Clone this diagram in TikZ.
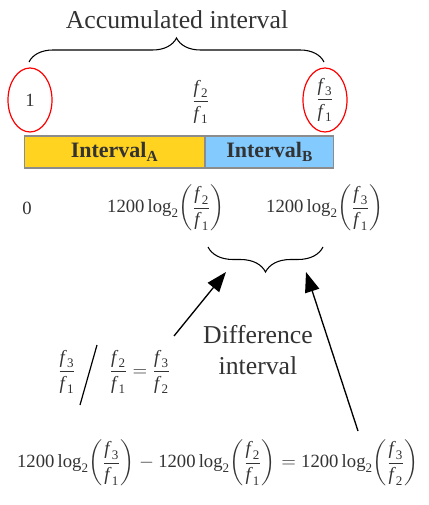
\documentclass[tikz,border=0pt]{standalone}
\usepackage{amsmath}
\usepackage{fontspec}
\setmainfont{Liberation Serif}
\usetikzlibrary{shapes.geometric,decorations.pathreplacing,arrows.meta}
\definecolor{txt}{HTML}{333333}
\definecolor{baryellow}{HTML}{FFD320}
\definecolor{barblue}{HTML}{83CAFF}
\definecolor{bargray}{HTML}{8C8C8C}
\newcommand{\fv}[1]{\textit{f}_{\,\text{#1}}}
\newcommand{\fr}[2]{\dfrac{\fv{#1}}{\fv{#2}}}
\newcommand{\lgx}[2]{\text{1200}\,\text{log}_{\text{2}}\!\left(\fr{#1}{#2}\right)}
\tikzset{
  lbl/.style={text=txt, inner sep=0pt, font=\fontsize{19.3}{23}\selectfont},
  mth/.style={text=txt, inner sep=0pt, font=\fontsize{14}{17}\selectfont},
  circ/.style={ellipse, draw=red, line width=0.9pt, minimum width=33pt, minimum height=48pt, inner sep=0pt, text=txt, font=\fontsize{14}{17}\selectfont},
  seg/.style={draw=bargray, line width=0.8pt, inner sep=0pt, minimum height=24pt, text=txt, font=\bfseries\fontsize{16.5}{19}\selectfont},
  brc/.style={draw=black, line width=0.8pt, decorate, decoration={brace, amplitude=#1}},
  arr/.style={draw=black, line width=1pt, -{Triangle[length=15pt,width=11pt]}}
}
\begin{document}
\begin{tikzpicture}[x=0.75pt,y=-0.75pt]
\useasboundingbox (0,0) rectangle (428,505);
% title and top brace
\node[lbl] (acc) at (177,20) {Accumulated interval};
\coordinate (tbL) at (29,62);
\coordinate (tbR) at (324,62);
\draw[brc=18pt] (tbL) -- (tbR);
% ratios
\node[circ] (one) at (30,100) {1};
\node[mth] (r21) at (201,102) {$\fr{2}{1}$};
\node[circ] (r31) at (325,100) {$\fr{3}{1}$};
% bar
\node[seg, fill=baryellow, minimum width=135pt, anchor=west] (ia) at (24,152) {Interval\textsubscript{A}};
\node[seg, fill=barblue, minimum width=96pt, anchor=west] (ib) at (ia.east) {Interval\textsubscript{B}};
% cents
\node[mth] (zero) at (27,208) {0};
\node[mth] (c21) at (166,208) {$\lgx{2}{1}$};
\node[mth] (c31) at (325,208) {$\lgx{3}{1}$};
% lower brace
\coordinate (lbR) at (323,247);
\coordinate (lbL) at (208,247);
\draw[brc=18.75pt] (lbR) -- (lbL);
% arrows
\coordinate (a1s) at (174,336);
\coordinate (a1e) at (226,272);
\coordinate (a2s) at (358,431);
\coordinate (a2e) at (306,272);
\draw[arr] (a1s) -- (a1e);
\draw[arr] (a2s) -- (a2e);
% difference label
\node[lbl, align=center] (diff) at (258,350) {Difference\\interval};
% ratio equation
\node[mth] (q1) at (67,372) {$\fr{3}{1}$};
\node[mth] (q2) at (140,372) {$\fr{2}{1}=\fr{3}{2}$};
\coordinate (slA) at (80,405);
\coordinate (slB) at (97,345);
\draw[line width=0.9pt] (slA) -- (slB);
% bottom equation
\node[mth] (eq) at (218,463) {$\lgx{3}{1}-\lgx{2}{1}=\lgx{3}{2}$};
\end{tikzpicture}
\end{document}
